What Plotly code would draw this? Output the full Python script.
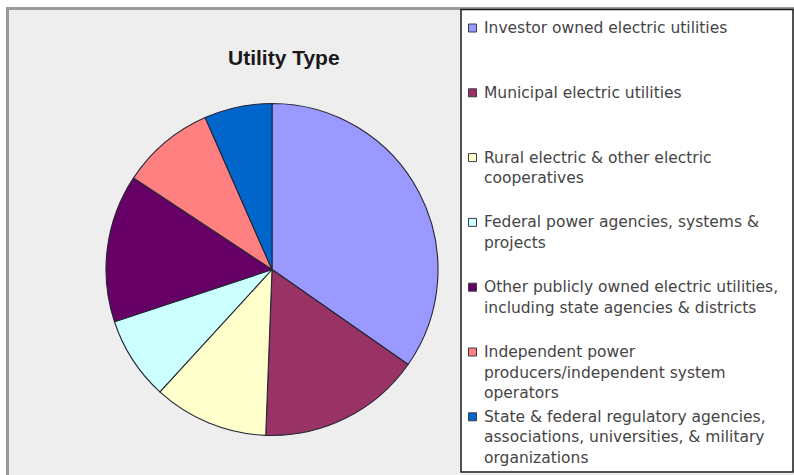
import plotly.graph_objects as go

# Utility type shares (percent of respondents), drawn clockwise from 12 o'clock
categories = [
    "Investor owned electric utilities",
    "Municipal electric utilities",
    "Rural electric & other electric<br>cooperatives",
    "Federal power agencies, systems &<br>projects",
    "Other publicly owned electric utilities,<br>including state agencies & districts",
    "Independent power<br>producers/independent system<br>operators",
    "State & federal regulatory agencies,<br>associations, universities, & military<br>organizations",
]
shares = [34.7, 15.9, 11.2, 8.1, 14.4, 9.1, 6.6]
slice_colors = ["#9999ff", "#993366", "#ffffcc", "#ccffff", "#660066", "#ff8080", "#0066cc"]
title_text = "Utility Type"

W, H = 794, 475


def px(x):
    return x / W


def py(y):
    return 1 - y / H


fig = go.Figure()

# Pie: centre (272, 269.5), radius 166 px
cx, cy, r = 272, 269.5, 166
fig.add_trace(go.Pie(
    labels=[c.replace("<br>", " ") for c in categories],
    values=shares,
    sort=False,
    direction="clockwise",
    rotation=0,
    marker=dict(colors=slice_colors, line=dict(color="#262636", width=1.1)),
    textinfo="none",
    hoverinfo="label+percent",
    showlegend=False,
    domain=dict(x=[px(cx - r), px(cx + r)], y=[py(cy + r), py(cy - r)]),
))

shapes = [
    # chart area with grey frame on left/top
    dict(type="rect", xref="paper", yref="paper", layer="below",
         x0=px(7.5), x1=px(W + 10), y0=py(H + 10), y1=py(8.5),
         fillcolor="#eeeeee", line=dict(color="#9a9a9a", width=3)),
    # legend box
    dict(type="rect", xref="paper", yref="paper", layer="below",
         x0=px(461), x1=px(793), y0=py(472), y1=py(9.5),
         fillcolor="#ffffff", line=dict(color="#1a1a1a", width=1.5)),
]

annotations = [
    dict(text="<b>%s</b>" % title_text, x=px(283.5), y=py(57), xref="paper", yref="paper",
         xanchor="center", yanchor="middle", showarrow=False,
         font=dict(family="Liberation Sans, Arial, sans-serif", size=21, color="#1a1a1a")),
]

first_line_y = 28
entry_step = 64.8
line_step = 20.5
for i, (cat, col) in enumerate(zip(categories, slice_colors)):
    y0 = first_line_y + i * entry_step
    shapes.append(dict(type="rect", xref="paper", yref="paper",
                       x0=px(468.5), x1=px(476.5), y0=py(y0 + 4), y1=py(y0 - 4),
                       fillcolor=col, line=dict(color="#3a3a4a", width=1)))
    for j, line in enumerate(cat.split("<br>")):
        annotations.append(dict(
            text=line, x=px(482), y=py(y0 + j * line_step), xref="paper", yref="paper",
            xanchor="left", yanchor="middle", showarrow=False,
            font=dict(family="DejaVu Sans, sans-serif", size=15.5, color="#454545"),
        ))

fig.update_layout(
    width=W, height=H,
    margin=dict(l=0, r=0, t=0, b=0),
    paper_bgcolor="#ffffff",
    plot_bgcolor="#ffffff",
    shapes=shapes,
    annotations=annotations,
    showlegend=False,
)

fig.write_html("out.html", config={"displayModeBar": False})
